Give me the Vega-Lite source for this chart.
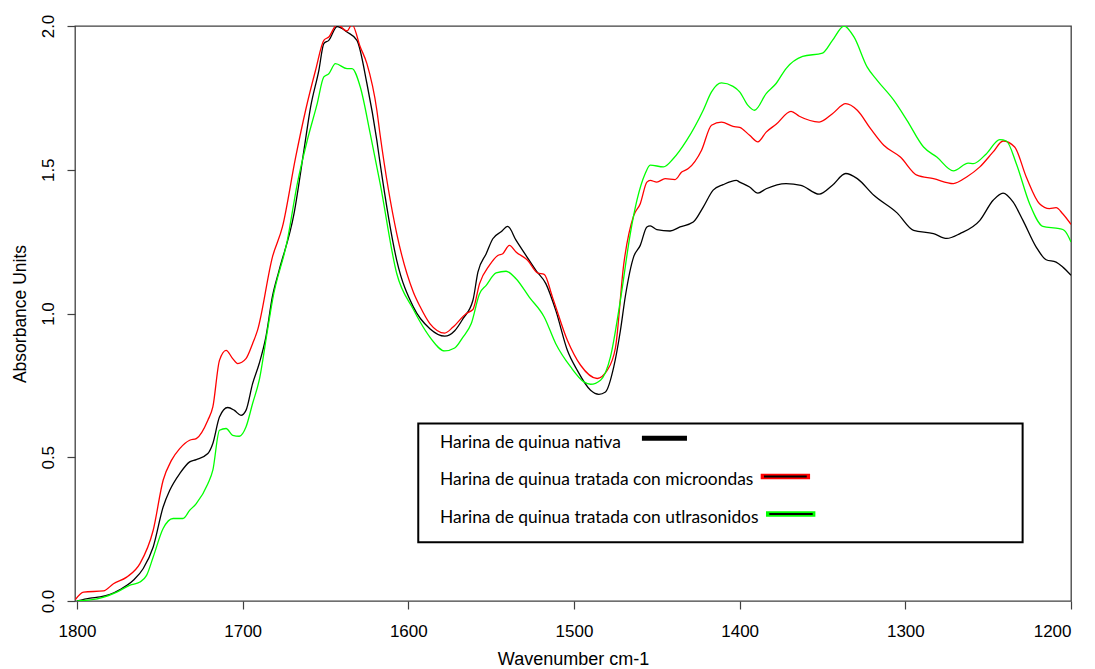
{
  "$schema": "https://vega.github.io/schema/vega-lite/v6.json",
  "autosize": {"type": "none"},
  "width": 996,
  "height": 575,
  "padding": {"left": 75, "top": 26, "right": 24, "bottom": 68},
  "background": "white",
  "config": {
    "view": {"stroke": "#404040", "strokeWidth": 1.3},
    "font": "Liberation Sans"
  },
  "datasets": {
    "espectros": [
      {"serie": "nativa", "wn": 1800, "abs": 0.000}, {"serie": "nativa", "wn": 1792, "abs": 0.010}, {"serie": "nativa", "wn": 1786, "abs": 0.014}, {"serie": "nativa", "wn": 1780, "abs": 0.023}, {"serie": "nativa", "wn": 1774, "abs": 0.040}, {"serie": "nativa", "wn": 1766, "abs": 0.072}, {"serie": "nativa", "wn": 1760, "abs": 0.113}, {"serie": "nativa", "wn": 1754, "abs": 0.188}, {"serie": "nativa", "wn": 1748, "abs": 0.327}, {"serie": "nativa", "wn": 1744, "abs": 0.385}, {"serie": "nativa", "wn": 1738, "abs": 0.443}, {"serie": "nativa", "wn": 1732, "abs": 0.484}, {"serie": "nativa", "wn": 1728, "abs": 0.492}, {"serie": "nativa", "wn": 1721, "abs": 0.513}, {"serie": "nativa", "wn": 1718, "abs": 0.548}, {"serie": "nativa", "wn": 1714, "abs": 0.640}, {"serie": "nativa", "wn": 1709, "abs": 0.673}, {"serie": "nativa", "wn": 1705, "abs": 0.663}, {"serie": "nativa", "wn": 1701, "abs": 0.646}, {"serie": "nativa", "wn": 1698, "abs": 0.663}, {"serie": "nativa", "wn": 1694, "abs": 0.756}, {"serie": "nativa", "wn": 1690, "abs": 0.826}, {"serie": "nativa", "wn": 1686, "abs": 0.918}, {"serie": "nativa", "wn": 1682, "abs": 1.060}, {"serie": "nativa", "wn": 1678, "abs": 1.150}, {"serie": "nativa", "wn": 1669, "abs": 1.347}, {"serie": "nativa", "wn": 1663, "abs": 1.568}, {"serie": "nativa", "wn": 1659, "abs": 1.718}, {"serie": "nativa", "wn": 1654, "abs": 1.846}, {"serie": "nativa", "wn": 1651, "abs": 1.939}, {"serie": "nativa", "wn": 1648, "abs": 1.950}, {"serie": "nativa", "wn": 1643, "abs": 1.998}, {"serie": "nativa", "wn": 1637, "abs": 1.979}, {"serie": "nativa", "wn": 1631, "abs": 1.950}, {"serie": "nativa", "wn": 1625, "abs": 1.800}, {"serie": "nativa", "wn": 1619, "abs": 1.602}, {"serie": "nativa", "wn": 1617, "abs": 1.521}, {"serie": "nativa", "wn": 1607, "abs": 1.185}, {"serie": "nativa", "wn": 1597, "abs": 1.023}, {"serie": "nativa", "wn": 1587, "abs": 0.947}, {"serie": "nativa", "wn": 1578, "abs": 0.921}, {"serie": "nativa", "wn": 1572, "abs": 0.940}, {"serie": "nativa", "wn": 1567, "abs": 0.982}, {"serie": "nativa", "wn": 1561, "abs": 1.046}, {"serie": "nativa", "wn": 1558, "abs": 1.144}, {"serie": "nativa", "wn": 1553, "abs": 1.208}, {"serie": "nativa", "wn": 1549, "abs": 1.260}, {"serie": "nativa", "wn": 1544, "abs": 1.284}, {"serie": "nativa", "wn": 1540, "abs": 1.303}, {"serie": "nativa", "wn": 1535, "abs": 1.255}, {"serie": "nativa", "wn": 1529, "abs": 1.202}, {"serie": "nativa", "wn": 1523, "abs": 1.150}, {"serie": "nativa", "wn": 1517, "abs": 1.104}, {"serie": "nativa", "wn": 1511, "abs": 1.011}, {"serie": "nativa", "wn": 1504, "abs": 0.872}, {"serie": "nativa", "wn": 1498, "abs": 0.802}, {"serie": "nativa", "wn": 1490, "abs": 0.733}, {"serie": "nativa", "wn": 1485, "abs": 0.719}, {"serie": "nativa", "wn": 1481, "abs": 0.727}, {"serie": "nativa", "wn": 1476, "abs": 0.814}, {"serie": "nativa", "wn": 1472, "abs": 0.940}, {"serie": "nativa", "wn": 1469, "abs": 1.060}, {"serie": "nativa", "wn": 1464, "abs": 1.197}, {"serie": "nativa", "wn": 1460, "abs": 1.237}, {"serie": "nativa", "wn": 1456, "abs": 1.301}, {"serie": "nativa", "wn": 1454, "abs": 1.305}, {"serie": "nativa", "wn": 1450, "abs": 1.292}, {"serie": "nativa", "wn": 1442, "abs": 1.287}, {"serie": "nativa", "wn": 1436, "abs": 1.301}, {"serie": "nativa", "wn": 1428, "abs": 1.318}, {"serie": "nativa", "wn": 1422, "abs": 1.370}, {"serie": "nativa", "wn": 1416, "abs": 1.429}, {"serie": "nativa", "wn": 1410, "abs": 1.448}, {"serie": "nativa", "wn": 1402, "abs": 1.463}, {"serie": "nativa", "wn": 1400, "abs": 1.457}, {"serie": "nativa", "wn": 1394, "abs": 1.440}, {"serie": "nativa", "wn": 1389, "abs": 1.419}, {"serie": "nativa", "wn": 1384, "abs": 1.434}, {"serie": "nativa", "wn": 1372, "abs": 1.452}, {"serie": "nativa", "wn": 1363, "abs": 1.446}, {"serie": "nativa", "wn": 1352, "abs": 1.415}, {"serie": "nativa", "wn": 1344, "abs": 1.446}, {"serie": "nativa", "wn": 1336, "abs": 1.487}, {"serie": "nativa", "wn": 1329, "abs": 1.469}, {"serie": "nativa", "wn": 1319, "abs": 1.411}, {"serie": "nativa", "wn": 1305, "abs": 1.350}, {"serie": "nativa", "wn": 1295, "abs": 1.289}, {"serie": "nativa", "wn": 1283, "abs": 1.278}, {"serie": "nativa", "wn": 1275, "abs": 1.261}, {"serie": "nativa", "wn": 1267, "abs": 1.278}, {"serie": "nativa", "wn": 1255, "abs": 1.324}, {"serie": "nativa", "wn": 1247, "abs": 1.394}, {"serie": "nativa", "wn": 1241, "abs": 1.419}, {"serie": "nativa", "wn": 1235, "abs": 1.388}, {"serie": "nativa", "wn": 1229, "abs": 1.324}, {"serie": "nativa", "wn": 1221, "abs": 1.231}, {"serie": "nativa", "wn": 1215, "abs": 1.187}, {"serie": "nativa", "wn": 1209, "abs": 1.179}, {"serie": "nativa", "wn": 1205, "abs": 1.162}, {"serie": "nativa", "wn": 1200, "abs": 1.133},

      {"serie": "microondas", "wn": 1801, "abs": 0.005}, {"serie": "microondas", "wn": 1796, "abs": 0.031}, {"serie": "microondas", "wn": 1784, "abs": 0.035}, {"serie": "microondas", "wn": 1778, "abs": 0.060}, {"serie": "microondas", "wn": 1770, "abs": 0.083}, {"serie": "microondas", "wn": 1762, "abs": 0.130}, {"serie": "microondas", "wn": 1754, "abs": 0.246}, {"serie": "microondas", "wn": 1748, "abs": 0.420}, {"serie": "microondas", "wn": 1743, "abs": 0.489}, {"serie": "microondas", "wn": 1738, "abs": 0.530}, {"serie": "microondas", "wn": 1732, "abs": 0.559}, {"serie": "microondas", "wn": 1728, "abs": 0.565}, {"serie": "microondas", "wn": 1721, "abs": 0.629}, {"serie": "microondas", "wn": 1718, "abs": 0.675}, {"serie": "microondas", "wn": 1714, "abs": 0.837}, {"serie": "microondas", "wn": 1710, "abs": 0.872}, {"serie": "microondas", "wn": 1706, "abs": 0.843}, {"serie": "microondas", "wn": 1703, "abs": 0.826}, {"serie": "microondas", "wn": 1698, "abs": 0.843}, {"serie": "microondas", "wn": 1694, "abs": 0.895}, {"serie": "microondas", "wn": 1691, "abs": 0.942}, {"serie": "microondas", "wn": 1682, "abs": 1.197}, {"serie": "microondas", "wn": 1676, "abs": 1.301}, {"serie": "microondas", "wn": 1668, "abs": 1.544}, {"serie": "microondas", "wn": 1662, "abs": 1.707}, {"serie": "microondas", "wn": 1656, "abs": 1.846}, {"serie": "microondas", "wn": 1651, "abs": 1.950}, {"serie": "microondas", "wn": 1648, "abs": 1.962}, {"serie": "microondas", "wn": 1643, "abs": 2.005}, {"serie": "microondas", "wn": 1637, "abs": 1.983}, {"serie": "microondas", "wn": 1634, "abs": 2.005}, {"serie": "microondas", "wn": 1629, "abs": 1.927}, {"serie": "microondas", "wn": 1625, "abs": 1.869}, {"serie": "microondas", "wn": 1619, "abs": 1.707}, {"serie": "microondas", "wn": 1617, "abs": 1.620}, {"serie": "microondas", "wn": 1607, "abs": 1.278}, {"serie": "microondas", "wn": 1597, "abs": 1.075}, {"serie": "microondas", "wn": 1593, "abs": 1.025}, {"serie": "microondas", "wn": 1587, "abs": 0.965}, {"serie": "microondas", "wn": 1578, "abs": 0.932}, {"serie": "microondas", "wn": 1573, "abs": 0.953}, {"serie": "microondas", "wn": 1565, "abs": 1.000}, {"serie": "microondas", "wn": 1561, "abs": 1.014}, {"serie": "microondas", "wn": 1557, "abs": 1.104}, {"serie": "microondas", "wn": 1551, "abs": 1.168}, {"serie": "microondas", "wn": 1546, "abs": 1.202}, {"serie": "microondas", "wn": 1543, "abs": 1.208}, {"serie": "microondas", "wn": 1539, "abs": 1.237}, {"serie": "microondas", "wn": 1535, "abs": 1.214}, {"serie": "microondas", "wn": 1528, "abs": 1.185}, {"serie": "microondas", "wn": 1522, "abs": 1.141}, {"serie": "microondas", "wn": 1518, "abs": 1.136}, {"serie": "microondas", "wn": 1513, "abs": 1.057}, {"serie": "microondas", "wn": 1504, "abs": 0.907}, {"serie": "microondas", "wn": 1496, "abs": 0.820}, {"serie": "microondas", "wn": 1486, "abs": 0.774}, {"serie": "microondas", "wn": 1480, "abs": 0.802}, {"serie": "microondas", "wn": 1475, "abs": 0.880}, {"serie": "microondas", "wn": 1470, "abs": 1.170}, {"serie": "microondas", "wn": 1464, "abs": 1.340}, {"serie": "microondas", "wn": 1460, "abs": 1.382}, {"serie": "microondas", "wn": 1456, "abs": 1.457}, {"serie": "microondas", "wn": 1454, "abs": 1.463}, {"serie": "microondas", "wn": 1450, "abs": 1.457}, {"serie": "microondas", "wn": 1445, "abs": 1.469}, {"serie": "microondas", "wn": 1439, "abs": 1.466}, {"serie": "microondas", "wn": 1435, "abs": 1.492}, {"serie": "microondas", "wn": 1431, "abs": 1.504}, {"serie": "microondas", "wn": 1423, "abs": 1.568}, {"serie": "microondas", "wn": 1417, "abs": 1.655}, {"serie": "microondas", "wn": 1411, "abs": 1.666}, {"serie": "microondas", "wn": 1404, "abs": 1.651}, {"serie": "microondas", "wn": 1400, "abs": 1.647}, {"serie": "microondas", "wn": 1394, "abs": 1.620}, {"serie": "microondas", "wn": 1389, "abs": 1.597}, {"serie": "microondas", "wn": 1384, "abs": 1.631}, {"serie": "microondas", "wn": 1378, "abs": 1.658}, {"serie": "microondas", "wn": 1369, "abs": 1.703}, {"serie": "microondas", "wn": 1364, "abs": 1.686}, {"serie": "microondas", "wn": 1352, "abs": 1.666}, {"serie": "microondas", "wn": 1344, "abs": 1.695}, {"serie": "microondas", "wn": 1336, "abs": 1.730}, {"serie": "microondas", "wn": 1329, "abs": 1.707}, {"serie": "microondas", "wn": 1321, "abs": 1.643}, {"serie": "microondas", "wn": 1313, "abs": 1.585}, {"serie": "microondas", "wn": 1303, "abs": 1.544}, {"serie": "microondas", "wn": 1293, "abs": 1.481}, {"serie": "microondas", "wn": 1283, "abs": 1.469}, {"serie": "microondas", "wn": 1271, "abs": 1.452}, {"serie": "microondas", "wn": 1263, "abs": 1.475}, {"serie": "microondas", "wn": 1255, "abs": 1.510}, {"serie": "microondas", "wn": 1247, "abs": 1.562}, {"serie": "microondas", "wn": 1241, "abs": 1.600}, {"serie": "microondas", "wn": 1234, "abs": 1.579}, {"serie": "microondas", "wn": 1227, "abs": 1.475}, {"serie": "microondas", "wn": 1219, "abs": 1.382}, {"serie": "microondas", "wn": 1213, "abs": 1.365}, {"serie": "microondas", "wn": 1209, "abs": 1.368}, {"serie": "microondas", "wn": 1205, "abs": 1.347}, {"serie": "microondas", "wn": 1200, "abs": 1.310},

      {"serie": "ultrasonidos", "wn": 1800, "abs": 0.000}, {"serie": "ultrasonidos", "wn": 1786, "abs": 0.010}, {"serie": "ultrasonidos", "wn": 1776, "abs": 0.031}, {"serie": "ultrasonidos", "wn": 1768, "abs": 0.055}, {"serie": "ultrasonidos", "wn": 1762, "abs": 0.066}, {"serie": "ultrasonidos", "wn": 1758, "abs": 0.089}, {"serie": "ultrasonidos", "wn": 1754, "abs": 0.153}, {"serie": "ultrasonidos", "wn": 1748, "abs": 0.252}, {"serie": "ultrasonidos", "wn": 1742, "abs": 0.287}, {"serie": "ultrasonidos", "wn": 1736, "abs": 0.287}, {"serie": "ultrasonidos", "wn": 1732, "abs": 0.315}, {"serie": "ultrasonidos", "wn": 1728, "abs": 0.339}, {"serie": "ultrasonidos", "wn": 1721, "abs": 0.408}, {"serie": "ultrasonidos", "wn": 1718, "abs": 0.455}, {"serie": "ultrasonidos", "wn": 1714, "abs": 0.594}, {"serie": "ultrasonidos", "wn": 1710, "abs": 0.600}, {"serie": "ultrasonidos", "wn": 1706, "abs": 0.576}, {"serie": "ultrasonidos", "wn": 1702, "abs": 0.573}, {"serie": "ultrasonidos", "wn": 1698, "abs": 0.605}, {"serie": "ultrasonidos", "wn": 1694, "abs": 0.687}, {"serie": "ultrasonidos", "wn": 1690, "abs": 0.768}, {"serie": "ultrasonidos", "wn": 1685, "abs": 0.942}, {"serie": "ultrasonidos", "wn": 1682, "abs": 1.046}, {"serie": "ultrasonidos", "wn": 1673, "abs": 1.255}, {"serie": "ultrasonidos", "wn": 1667, "abs": 1.452}, {"serie": "ultrasonidos", "wn": 1661, "abs": 1.602}, {"serie": "ultrasonidos", "wn": 1655, "abs": 1.730}, {"serie": "ultrasonidos", "wn": 1651, "abs": 1.823}, {"serie": "ultrasonidos", "wn": 1648, "abs": 1.834}, {"serie": "ultrasonidos", "wn": 1644, "abs": 1.869}, {"serie": "ultrasonidos", "wn": 1637, "abs": 1.852}, {"serie": "ultrasonidos", "wn": 1634, "abs": 1.852}, {"serie": "ultrasonidos", "wn": 1629, "abs": 1.788}, {"serie": "ultrasonidos", "wn": 1623, "abs": 1.626}, {"serie": "ultrasonidos", "wn": 1617, "abs": 1.452}, {"serie": "ultrasonidos", "wn": 1607, "abs": 1.139}, {"serie": "ultrasonidos", "wn": 1597, "abs": 1.015}, {"serie": "ultrasonidos", "wn": 1593, "abs": 0.972}, {"serie": "ultrasonidos", "wn": 1587, "abs": 0.918}, {"serie": "ultrasonidos", "wn": 1578, "abs": 0.870}, {"serie": "ultrasonidos", "wn": 1572, "abs": 0.880}, {"serie": "ultrasonidos", "wn": 1567, "abs": 0.918}, {"serie": "ultrasonidos", "wn": 1562, "abs": 0.965}, {"serie": "ultrasonidos", "wn": 1557, "abs": 1.069}, {"serie": "ultrasonidos", "wn": 1553, "abs": 1.098}, {"serie": "ultrasonidos", "wn": 1547, "abs": 1.141}, {"serie": "ultrasonidos", "wn": 1541, "abs": 1.147}, {"serie": "ultrasonidos", "wn": 1535, "abs": 1.121}, {"serie": "ultrasonidos", "wn": 1527, "abs": 1.057}, {"serie": "ultrasonidos", "wn": 1518, "abs": 0.988}, {"serie": "ultrasonidos", "wn": 1511, "abs": 0.895}, {"serie": "ultrasonidos", "wn": 1502, "abs": 0.814}, {"serie": "ultrasonidos", "wn": 1494, "abs": 0.762}, {"serie": "ultrasonidos", "wn": 1490, "abs": 0.754}, {"serie": "ultrasonidos", "wn": 1484, "abs": 0.768}, {"serie": "ultrasonidos", "wn": 1478, "abs": 0.849}, {"serie": "ultrasonidos", "wn": 1472, "abs": 1.046}, {"serie": "ultrasonidos", "wn": 1466, "abs": 1.278}, {"serie": "ultrasonidos", "wn": 1462, "abs": 1.394}, {"serie": "ultrasonidos", "wn": 1457, "abs": 1.487}, {"serie": "ultrasonidos", "wn": 1454, "abs": 1.516}, {"serie": "ultrasonidos", "wn": 1446, "abs": 1.510}, {"serie": "ultrasonidos", "wn": 1440, "abs": 1.539}, {"serie": "ultrasonidos", "wn": 1432, "abs": 1.602}, {"serie": "ultrasonidos", "wn": 1422, "abs": 1.707}, {"serie": "ultrasonidos", "wn": 1417, "abs": 1.771}, {"serie": "ultrasonidos", "wn": 1411, "abs": 1.802}, {"serie": "ultrasonidos", "wn": 1404, "abs": 1.790}, {"serie": "ultrasonidos", "wn": 1400, "abs": 1.771}, {"serie": "ultrasonidos", "wn": 1395, "abs": 1.724}, {"serie": "ultrasonidos", "wn": 1391, "abs": 1.707}, {"serie": "ultrasonidos", "wn": 1384, "abs": 1.765}, {"serie": "ultrasonidos", "wn": 1378, "abs": 1.800}, {"serie": "ultrasonidos", "wn": 1372, "abs": 1.852}, {"serie": "ultrasonidos", "wn": 1362, "abs": 1.894}, {"serie": "ultrasonidos", "wn": 1350, "abs": 1.906}, {"serie": "ultrasonidos", "wn": 1344, "abs": 1.950}, {"serie": "ultrasonidos", "wn": 1337, "abs": 2.000}, {"serie": "ultrasonidos", "wn": 1331, "abs": 1.962}, {"serie": "ultrasonidos", "wn": 1323, "abs": 1.857}, {"serie": "ultrasonidos", "wn": 1317, "abs": 1.811}, {"serie": "ultrasonidos", "wn": 1307, "abs": 1.742}, {"serie": "ultrasonidos", "wn": 1299, "abs": 1.672}, {"serie": "ultrasonidos", "wn": 1289, "abs": 1.579}, {"serie": "ultrasonidos", "wn": 1281, "abs": 1.544}, {"serie": "ultrasonidos", "wn": 1271, "abs": 1.496}, {"serie": "ultrasonidos", "wn": 1262, "abs": 1.523}, {"serie": "ultrasonidos", "wn": 1259, "abs": 1.521}, {"serie": "ultrasonidos", "wn": 1251, "abs": 1.556}, {"serie": "ultrasonidos", "wn": 1243, "abs": 1.605}, {"serie": "ultrasonidos", "wn": 1239, "abs": 1.600}, {"serie": "ultrasonidos", "wn": 1233, "abs": 1.521}, {"serie": "ultrasonidos", "wn": 1225, "abs": 1.382}, {"serie": "ultrasonidos", "wn": 1217, "abs": 1.303}, {"serie": "ultrasonidos", "wn": 1207, "abs": 1.295}, {"serie": "ultrasonidos", "wn": 1204, "abs": 1.289}, {"serie": "ultrasonidos", "wn": 1200, "abs": 1.249}
    ],
    "leyenda": [
      {"serie": "nativa", "etiqueta": "Harina de quinua nativa"},
      {"serie": "microondas", "etiqueta": "Harina de quinua tratada con microondas"},
      {"serie": "ultrasonidos", "etiqueta": "Harina de quinua tratada con utlrasonidos"}
    ]
  },
  "layer": [
    {
      "data": {"name": "espectros"},
      "mark": {"type": "line", "clip": true, "strokeWidth": 1.3, "interpolate": "monotone"},
      "encoding": {
        "x": {
          "field": "wn", "type": "quantitative", "title": "Wavenumber cm-1",
          "scale": {"domain": [1200, 1801.2], "reverse": true, "nice": false, "zero": false},
          "axis": {
            "values": [1200, 1300, 1400, 1500, 1600, 1700, 1800], "format": "d",
            "domain": false, "grid": false, "tickSize": 8, "tickColor": "#404040", "tickWidth": 1.2,
            "labelFont": "Liberation Sans", "labelFontSize": 17, "labelColor": "#000", "labelPadding": 14,
            "labelBaseline": "top",
            "titleFont": "Liberation Sans", "titleFontSize": 18, "titleFontWeight": "normal", "titleColor": "#000",
            "titleBaseline": "alphabetic", "titleX": 498, "titleY": 63, "titleAnchor": "middle"
          }
        },
        "y": {
          "field": "abs", "type": "quantitative", "title": "Absorbance Units",
          "scale": {"domain": [0, 2], "nice": false, "zero": true},
          "axis": {
            "values": [0, 0.5, 1, 1.5, 2], "format": ".1f",
            "domain": false, "grid": false, "tickSize": 8, "tickColor": "#404040", "tickWidth": 1.2,
            "labelFont": "Liberation Sans", "labelFontSize": 17, "labelColor": "#000", "labelPadding": 13.5,
            "labelAngle": -90, "labelAlign": "center", "labelBaseline": "alphabetic",
            "titleFont": "Liberation Sans", "titleFontSize": 17.5, "titleFontWeight": "normal", "titleColor": "#000",
            "titleAngle": -90, "titleAlign": "center", "titleBaseline": "alphabetic", "titleX": -49.5, "titleY": 287.5
          }
        },
        "color": {
          "field": "serie", "type": "nominal", "legend": null,
          "scale": {"domain": ["nativa", "microondas", "ultrasonidos"], "range": ["#000000", "#ff0000", "#00ff00"]}
        }
      }
    },
    {
      "data": {"name": "leyenda"},
      "transform": [{"filter": {"field": "serie", "equal": "nativa"}}],
      "mark": {"type": "rect", "fill": "white", "stroke": "#000", "strokeWidth": 2},
      "encoding": {
        "x": {"datum": 1594.0, "type": "quantitative"},
        "x2": {"datum": 1229.2},
        "y": {"datum": 0.617, "type": "quantitative"},
        "y2": {"datum": 0.204}
      }
    },
    {
      "data": {"name": "leyenda"},
      "transform": [{"filter": {"field": "serie", "equal": "nativa"}}],
      "mark": {"type": "text", "font": "Lato", "fontSize": 17.4, "align": "left", "baseline": "alphabetic", "color": "#000"},
      "encoding": {
        "x": {"datum": 1580.9, "type": "quantitative"},
        "y": {"datum": 0.533, "type": "quantitative"},
        "text": {"field": "etiqueta"}
      }
    },
    {
      "data": {"name": "leyenda"},
      "transform": [{"filter": {"field": "serie", "equal": "microondas"}}],
      "mark": {"type": "text", "font": "Lato", "fontSize": 17.4, "align": "left", "baseline": "alphabetic", "color": "#000"},
      "encoding": {
        "x": {"datum": 1580.9, "type": "quantitative"},
        "y": {"datum": 0.402, "type": "quantitative"},
        "text": {"field": "etiqueta"}
      }
    },
    {
      "data": {"name": "leyenda"},
      "transform": [{"filter": {"field": "serie", "equal": "ultrasonidos"}}],
      "mark": {"type": "text", "font": "Lato", "fontSize": 17.4, "align": "left", "baseline": "alphabetic", "color": "#000"},
      "encoding": {
        "x": {"datum": 1580.9, "type": "quantitative"},
        "y": {"datum": 0.272, "type": "quantitative"},
        "text": {"field": "etiqueta"}
      }
    },
    {
      "data": {"name": "leyenda"},
      "transform": [{"filter": {"field": "serie", "equal": "nativa"}}],
      "mark": {"type": "rule", "stroke": "#000", "strokeWidth": 5, "strokeCap": "butt"},
      "encoding": {
        "x": {"datum": 1459.0, "type": "quantitative"},
        "x2": {"datum": 1431.8},
        "y": {"datum": 0.566, "type": "quantitative"}
      }
    },
    {
      "data": {"name": "leyenda"},
      "transform": [{"filter": {"field": "serie", "equal": "microondas"}}],
      "mark": {"type": "rule", "stroke": "#ff0000", "strokeWidth": 5.5, "strokeCap": "butt"},
      "encoding": {
        "x": {"datum": 1387.3, "type": "quantitative"},
        "x2": {"datum": 1357.5},
        "y": {"datum": 0.433, "type": "quantitative"}
      }
    },
    {
      "data": {"name": "leyenda"},
      "transform": [{"filter": {"field": "serie", "equal": "microondas"}}],
      "mark": {"type": "rule", "stroke": "#000", "strokeWidth": 2.2, "strokeCap": "butt"},
      "encoding": {
        "x": {"datum": 1385.3, "type": "quantitative"},
        "x2": {"datum": 1359.5},
        "y": {"datum": 0.433, "type": "quantitative"}
      }
    },
    {
      "data": {"name": "leyenda"},
      "transform": [{"filter": {"field": "serie", "equal": "ultrasonidos"}}],
      "mark": {"type": "rule", "stroke": "#00ff00", "strokeWidth": 5.5, "strokeCap": "butt"},
      "encoding": {
        "x": {"datum": 1384.1, "type": "quantitative"},
        "x2": {"datum": 1354.3},
        "y": {"datum": 0.3026, "type": "quantitative"}
      }
    },
    {
      "data": {"name": "leyenda"},
      "transform": [{"filter": {"field": "serie", "equal": "ultrasonidos"}}],
      "mark": {"type": "rule", "stroke": "#000", "strokeWidth": 2.2, "strokeCap": "butt"},
      "encoding": {
        "x": {"datum": 1382.1, "type": "quantitative"},
        "x2": {"datum": 1355.9},
        "y": {"datum": 0.3026, "type": "quantitative"}
      }
    }
  ]
}
